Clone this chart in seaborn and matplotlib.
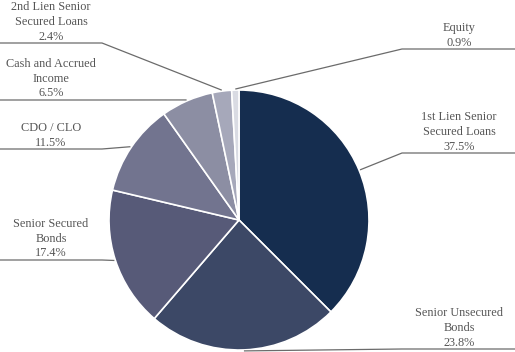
import numpy as np
import matplotlib
matplotlib.use("Agg")
import matplotlib.pyplot as plt
import seaborn as sns

sns.set_theme(style="white")
plt.rcParams["font.family"] = ["Liberation Serif", "DejaVu Serif"]

# ---- data ----
labels = ["1st Lien Senior\nSecured Loans", "Senior Unsecured\nBonds",
          "Senior Secured\nBonds", "CDO / CLO", "Cash and Accrued\nIncome",
          "2nd Lien Senior\nSecured Loans", "Equity"]
shares = [37.5, 23.8, 17.4, 11.5, 6.5, 2.4, 0.9]
colors = ["#152d4f", "#3c4866", "#575a78", "#72748f", "#8c8ea3", "#a6a8ba", "#d9dbe3"]

# label layout (image pixels, y down)
line_y = [153, 349, 260, 149, 100, 43, 49]
side = ["R", "R", "L", "L", "L", "L", "R"]

W, H = 515, 352
fig = plt.figure(figsize=(W / 100, H / 100), dpi=100)
ax = fig.add_axes([0, 0, 1, 1])

cx, cy, r = 239, H - 220, 130
wedges, _ = ax.pie(shares, colors=colors, startangle=90, counterclock=False,
                   center=(cx, cy), radius=r, frame=True,
                   wedgeprops=dict(edgecolor="white", linewidth=1.2))

for w, lab, val, ly, s in zip(wedges, labels, shares, line_y, side):
    mid = np.deg2rad((w.theta1 + w.theta2) / 2)
    ax_x = cx + (r + 1) * np.cos(mid)
    ax_y = cy + (r + 1) * np.sin(mid)
    y = H - ly
    if s == "R":
        ex = max(ax_x, 402)
        xs, ys = [ax_x, ex, W], [ax_y, y, y]
        tx = 459
    else:
        ex = min(ax_x, 102)
        xs, ys = [ax_x, ex, 0], [ax_y, y, y]
        tx = 51
    ax.plot(xs, ys, color="#6b6b6b", lw=0.9, solid_capstyle="butt")
    ax.text(tx, y + 3.5, f"{lab}\n{val:.1f}%", ha="center", va="baseline",
            multialignment="center", fontsize=8.8, color="#555555",
            linespacing=1.33)

ax.set_xlim(0, W)
ax.set_ylim(0, H)
ax.axis("off")

fig.savefig("out.png", dpi=100)
